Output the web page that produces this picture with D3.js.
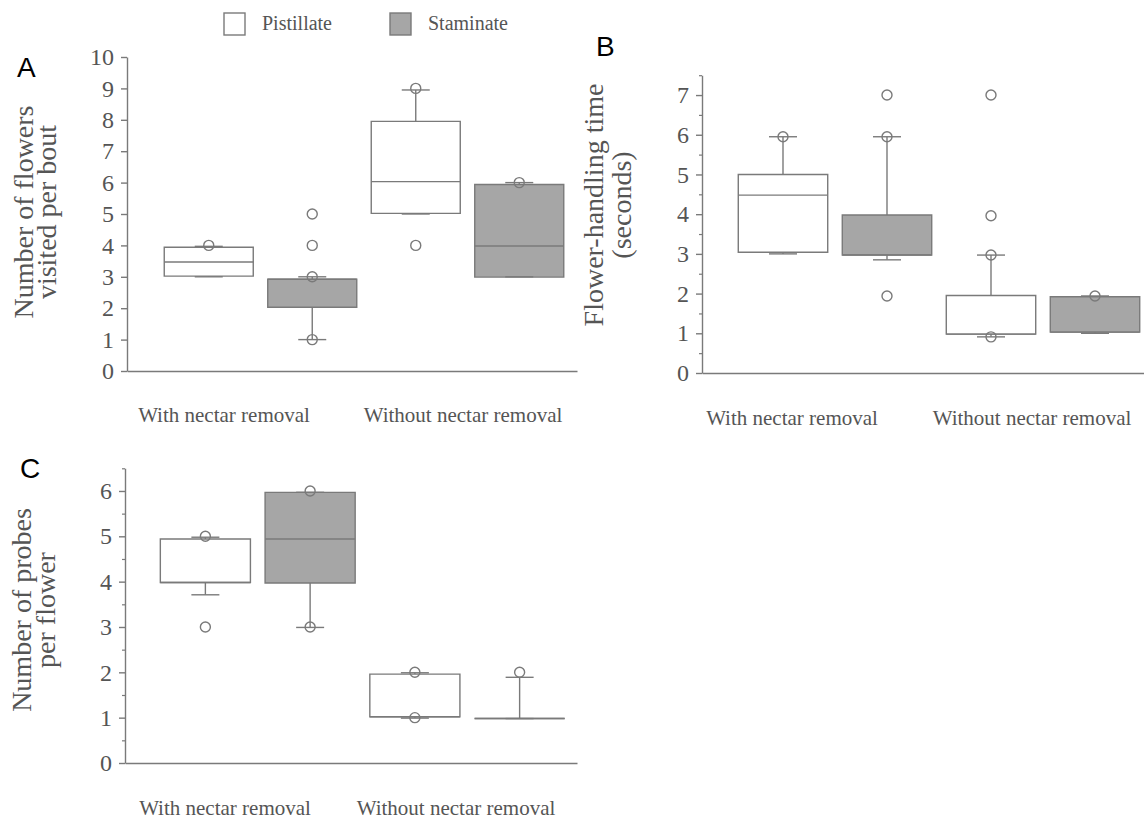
<!DOCTYPE html>
<html lang="en">
<head>
  <meta charset="UTF-8">
  <title>Nectar removal box plots</title>
  <script src="https://cdn.jsdelivr.net/npm/d3@7/dist/d3.min.js"></script>
  <style>
    body { margin: 0; background: #fff; }
    svg text { font-family: 'Liberation Serif', 'DejaVu Serif', serif; fill: #555; }
    .letter { font-family: 'Liberation Sans', Arial, sans-serif; fill: #000; font-size: 28px; }
  </style>
</head>
<body>
  <svg id="chart" width="1144" height="820"></svg>
  <script>
    const groups = ['With nectar removal', 'Without nectar removal'];
    const sexes = ['Pistillate', 'Staminate'];

    // order of every array: with/pistillate, with/staminate, without/pistillate, without/staminate
    // A - flowers visited per bout
    const flowersQ1 = [3.02, 2.03, 5.02, 2.99];
    const flowersMed = [3.47, 2.92, 6.03, 3.98];
    const flowersQ3 = [3.94, 2.92, 7.95, 5.94];
    const flowersLow = [3, 1, 5, 3];
    const flowersHigh = [3.97, 3, 8.95, 6];
    const flowersOut = [[4], [1, 3, 4, 5], [9, 4], [6]];
    const flowersTicks = [0, 1, 2, 3, 4, 5, 6, 7, 8, 9, 10];

    // B - flower-handling time (s)
    const handlingQ1 = [3.04, 2.97, 0.98, 1.03];
    const handlingMed = [4.48, 2.97, 0.98, 1.03];
    const handlingQ3 = [5.0, 3.98, 1.95, 1.92];
    const handlingLow = [3.0, 2.85, 0.91, 1.0];
    const handlingHigh = [5.95, 5.95, 2.97, 1.94];
    const handlingOut = [[5.95], [7, 5.95, 1.94], [7, 3.96, 2.97, 0.91], [1.94]];
    const handlingTicks = [0, 1, 2, 3, 4, 5, 6, 7];

    // C - probes per flower
    const probesQ1 = [3.98, 3.97, 1.02, 0.98];
    const probesMed = [3.98, 4.94, 1.02, 0.98];
    const probesQ3 = [4.94, 5.97, 1.96, 0.98];
    const probesLow = [3.71, 2.99, 0.99, 0.98];
    const probesHigh = [4.98, 5.97, 1.99, 1.89];
    const probesOut = [[5, 3], [6, 3], [2, 1], [2]];
    const probesTicks = [0, 1, 2, 3, 4, 5, 6];

    const lineColor = '#7a7a7a';
    const boxFill = { Pistillate: '#fff', Staminate: '#a6a6a6' };

    const makeBoxes = (q1, med, q3, lo, hi, out) => q1.map((d, i) => ({
      group: groups[Math.floor(i / 2)],
      sex: sexes[i % 2],
      q1: d, med: med[i], q3: q3[i], lo: lo[i], hi: hi[i], out: out[i]
    }));

    const panels = [
      {
        letter: 'A', letterPos: [17, 77],
        boxes: makeBoxes(flowersQ1, flowersMed, flowersQ3, flowersLow, flowersHigh, flowersOut),
        ticks: flowersTicks, minor: false, yMax: 10,
        axisX: 127, axisEnd: 577, yRange: [371, 57], band: [157, 571],
        label: ['Number of flowers', 'visited per bout'], labelX: [33, 56], labelY: 212,
        xLabelX: [224, 463], xLabelY: 422
      },
      {
        letter: 'B', letterPos: [596, 56],
        boxes: makeBoxes(handlingQ1, handlingMed, handlingQ3, handlingLow, handlingHigh, handlingOut),
        ticks: handlingTicks, minor: true, yMax: 7.5,
        axisX: 702, axisEnd: 1144, yRange: [373, 75.2], band: [731, 1147],
        label: ['Flower-handling time', '(seconds)'], labelX: [603, 631], labelY: 205,
        xLabelX: [792, 1032], xLabelY: 425
      },
      {
        letter: 'C', letterPos: [20, 478],
        boxes: makeBoxes(probesQ1, probesMed, probesQ3, probesLow, probesHigh, probesOut),
        ticks: probesTicks, minor: true, yMax: 6.5,
        axisX: 125, axisEnd: 577, yRange: [763, 468.3], band: [153, 572],
        label: ['Number of probes', 'per flower'], labelX: [31, 55], labelY: 610,
        xLabelX: [225, 456], xLabelY: 815
      }
    ];

    const svg = d3.select('#chart');

    panels.forEach(p => {
      const g = svg.append('g');
      const y = d3.scaleLinear().domain([0, p.yMax]).range(p.yRange);
      const xOuter = d3.scaleBand().domain(groups).range(p.band);
      const xInner = d3.scaleBand().domain(sexes)
        .range([0, xOuter.bandwidth()])
        .paddingInner(0.14).paddingOuter(0.07);
      const bw = xInner.bandwidth();
      const cx = d => xOuter(d.group) + xInner(d.sex) + bw / 2;
      const capW = 28;

      // y axis
      const yAxisG = g.append('g')
        .attr('transform', `translate(${p.axisX},0)`)
        .call(d3.axisLeft(y).tickValues(p.ticks).tickSize(6).tickSizeOuter(0).tickPadding(7).tickFormat(d3.format('d')));
      yAxisG.selectAll('.domain, .tick line').attr('stroke', lineColor).attr('stroke-width', 1.4);
      yAxisG.selectAll('text')
        .style('font-family', "'Liberation Serif', serif")
        .style('font-size', '24px').attr('fill', '#555');

      if (p.minor) {
        const minorTicks = p.ticks.map(t => t + 0.5);
        g.append('g')
          .attr('transform', `translate(${p.axisX},0)`)
          .call(d3.axisLeft(y).tickValues(minorTicks).tickSize(3).tickFormat(''))
          .call(s => s.select('.domain').remove())
          .selectAll('line').attr('stroke', lineColor).attr('stroke-width', 1.2);
      }

      // x axis: just the baseline
      const xLine = d3.scaleLinear().range([p.axisX, p.axisEnd]);
      g.append('g')
        .attr('transform', `translate(0,${y(0)})`)
        .call(d3.axisBottom(xLine).tickValues([]).tickSizeOuter(0))
        .select('.domain').attr('stroke', lineColor).attr('stroke-width', 1.4);

      // boxes
      const box = g.selectAll('.box').data(p.boxes).enter().append('g').attr('class', 'box');

      box.filter(d => d.hi > d.q3).append('line')
        .attr('x1', cx).attr('x2', cx)
        .attr('y1', d => y(d.q3)).attr('y2', d => y(d.hi));
      box.filter(d => d.lo < d.q1).append('line')
        .attr('x1', cx).attr('x2', cx)
        .attr('y1', d => y(d.q1)).attr('y2', d => y(d.lo));

      box.append('path')
        .attr('d', d => {
          const x0 = xOuter(d.group) + xInner(d.sex);
          return `M${x0},${y(d.q3)}H${x0 + bw}V${y(d.q1)}H${x0}Z`;
        })
        .attr('fill', d => boxFill[d.sex]);

      box.append('line')
        .attr('x1', d => xOuter(d.group) + xInner(d.sex))
        .attr('x2', d => xOuter(d.group) + xInner(d.sex) + bw)
        .attr('y1', d => y(d.med)).attr('y2', d => y(d.med));

      ['hi', 'lo'].forEach(k => {
        box.append('line')
          .attr('x1', d => cx(d) - capW / 2).attr('x2', d => cx(d) + capW / 2)
          .attr('y1', d => y(d[k])).attr('y2', d => y(d[k]));
      });

      box.selectAll('line, path').attr('stroke', lineColor).attr('stroke-width', 1.4);

      box.selectAll('circle').data(d => d.out.map(v => ({ v, x: cx(d) })))
        .enter().append('circle')
          .attr('cx', d => d.x)
          .attr('cy', d => y(d.v))
          .attr('r', 5)
          .attr('fill', 'none')
          .attr('stroke', lineColor)
          .attr('stroke-width', 1.4);

      // axis title (two lines, rotated)
      p.label.forEach((t, i) => {
        g.append('text')
          .attr('transform', `translate(${p.labelX[i]},${p.labelY}) rotate(-90)`)
          .attr('text-anchor', 'middle')
          .style('font-size', '28px')
          .text(t);
      });

      // group labels
      groups.forEach((t, i) => {
        g.append('text')
          .attr('x', p.xLabelX[i]).attr('y', p.xLabelY)
          .attr('text-anchor', 'middle')
          .style('font-size', '21px')
          .text(t);
      });

      g.append('text')
        .attr('class', 'letter')
        .attr('x', p.letterPos[0]).attr('y', p.letterPos[1])
        .text(p.letter);
    });

    // legend
    const legendX = d3.scalePoint().domain(sexes).range([224, 390]);
    const legend = svg.append('g').selectAll('g').data(sexes).enter().append('g')
      .attr('transform', d => `translate(${legendX(d)},13)`);
    legend.append('rect')
      .attr('width', 21).attr('height', 22)
      .attr('fill', d => boxFill[d])
      .attr('stroke', lineColor).attr('stroke-width', 1.4);
    legend.append('text')
      .attr('x', 38).attr('y', 17)
      .style('font-size', '20px')
      .text(d => d);
  </script>
</body>
</html>
